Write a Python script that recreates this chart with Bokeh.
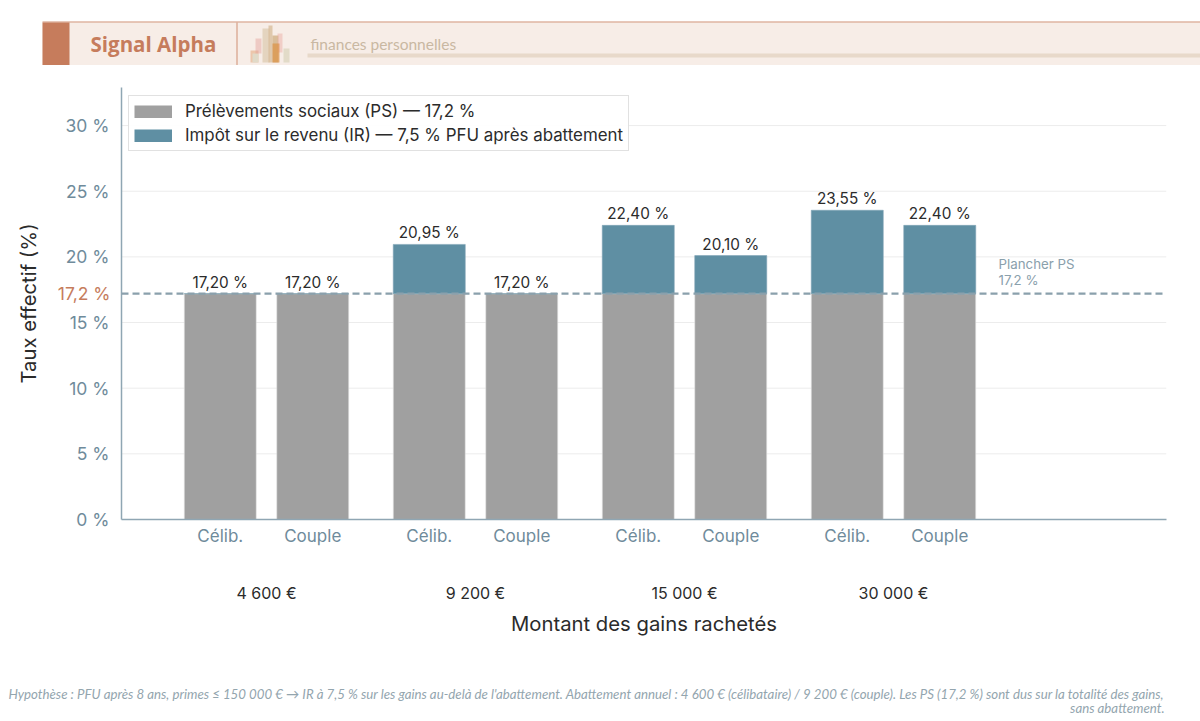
from bokeh.plotting import figure
from bokeh.embed import file_html
from bokeh.resources import INLINE
from bokeh.core.properties import value
from bokeh.models import (Label, LinearAxis, FixedTicker, Range1d, Span, ColumnDataSource, Legend, LegendItem)

amounts = ["4 600 €", "9 200 €", "15 000 €", "30 000 €"]
households = ["Célib.", "Couple"]
ps_values = [17.2, 17.2, 17.2, 17.2, 17.2, 17.2, 17.2, 17.2]
ir_values = [0.0, 0.0, 3.75, 0.0, 5.2, 2.9, 6.35, 5.2]
total_labels = ["17,20 %", "17,20 %", "20,95 %", "17,20 %", "22,40 %", "20,10 %", "23,55 %", "22,40 %"]
y_ticks = [0, 5, 10, 15, 20, 25, 30]
floor_value = 17.2
floor_label = "17,2 %"
FONT = "Inter"
TICK_COL = "#6f8b9b"
AXIS_COL = "#8fa6b3"
DARK = "#2b2b2b"
RUST = "#c67c5c"
GREY = "#a0a0a0"
TEAL = "#5f8fa3"
HEAD_H, FOOT_TOP = 65, 650

# ---------- banner ----------
h = figure(width=1200, height=HEAD_H, output_backend="svg", toolbar_location=None,
           x_range=Range1d(0, 1200), y_range=Range1d(HEAD_H, 0), x_axis_type=None, y_axis_type=None,
           outline_line_color=None, min_border=0)
h.grid.visible = False
def box(l, r, t, b, col, a=1.0):
    h.quad(left=[l], right=[r], top=[t], bottom=[b], fill_color=col, fill_alpha=a, line_color=None)
box(42, 1200, 22, 64.5, "#f7ede7")
box(42, 1200, 21, 22, "#cf8f74")
box(42, 69, 22, 64.5, RUST)
box(236, 237, 22, 64.5, "#cf8f74")
box(307, 1200, 53, 57, "#e8d9ca")
icon = [(250, 258, 50, 62, "#e2a06f", .5), (252, 258, 53, 62, "#dfdccb", .9), (255, 261, 38, 53, "#e29f9a", .45),
        (262, 269, 28, 62, "#dcc9ae", .7), (268, 272, 25, 62, "#d3b48c", .65), (272, 278, 35, 62, "#c9a36e", .65),
        (277, 282, 33, 52, "#e8a8a0", .45), (272, 279, 43, 62, "#dc8a36", .6), (283, 289, 48, 62, "#dcd6c0", .8)]
for b in icon:
    box(*b)
h.add_layout(Label(x=90, y=43.5, text="Signal Alpha", text_font="Open Sans", text_font_style="bold",
                   text_font_size="20.5px", text_color=RUST, text_baseline="middle"))
h.add_layout(Label(x=310, y=43, text="finances personnelles", text_font="Lato",
                   text_font_size="15.5px", text_color="#c9b8a2", text_baseline="middle"))

# ---------- chart ----------
OFF = 92.5 / 209 / 2
xs = [g + s * OFF for g in range(len(amounts)) for s in (-1, 1)]
totals = [a + b for a, b in zip(ps_values, ir_values)]
src = ColumnDataSource(dict(x=xs, ps=ps_values, ir=ir_values, total=totals, base=[0] * 8, lab=total_labels))

p = figure(width=1200, height=FOOT_TOP - HEAD_H, output_backend="svg", toolbar_location=None,
           x_range=Range1d(-145 / 209, 900 / 209), y_range=Range1d(0, 32.9),
           frame_width=1045, frame_height=432,
           min_border_left=121, min_border_right=34, min_border_top=87 - HEAD_H, min_border_bottom=FOOT_TOP - 519,
           outline_line_color=None, x_axis_type=None, y_axis_type=None)

notick = dict(major_tick_line_color=None, minor_tick_line_color=None, major_tick_out=0, major_tick_in=0)
ax = LinearAxis(ticker=FixedTicker(ticks=y_ticks), major_label_overrides={t: f"{t} %" for t in y_ticks},
                major_label_text_font=FONT, major_label_text_font_size="17.5px", major_label_text_color=TICK_COL,
                major_label_standoff=12, axis_line_color=AXIS_COL, axis_line_width=1.5, **notick)
p.add_layout(ax, "left")
ax2 = LinearAxis(ticker=FixedTicker(ticks=[floor_value]), major_label_overrides={floor_value: floor_label},
                 axis_label="Taux effectif (%)", axis_label_text_font=FONT, axis_label_text_font_size="20.3px",
                 axis_label_text_font_style="normal", axis_label_text_color=DARK, axis_label_standoff=14,
                 major_label_text_font=FONT, major_label_text_font_size="17.5px", major_label_text_color=RUST,
                 major_label_standoff=-48, axis_line_color=None, **notick)
p.add_layout(ax2, "left")

bx = LinearAxis(ticker=FixedTicker(ticks=xs), major_label_overrides={x: households[i % 2] for i, x in enumerate(xs)},
                major_label_text_font=FONT, major_label_text_font_size="17px", major_label_text_color=TICK_COL,
                major_label_standoff=6, axis_line_color=AXIS_COL, axis_line_width=1.5, **notick)
p.add_layout(bx, "below")
gx = LinearAxis(ticker=FixedTicker(ticks=list(range(len(amounts)))),
                major_label_overrides={i: a for i, a in enumerate(amounts)},
                axis_label="Montant des gains rachetés", axis_label_text_font=FONT, axis_label_text_font_size="20.3px",
                axis_label_text_font_style="normal", axis_label_text_color=DARK, axis_label_standoff=5,
                major_label_text_font=FONT, major_label_text_font_size="16px", major_label_text_color=DARK,
                major_label_standoff=34, axis_line_color=None, **notick)
p.add_layout(gx, "below")

for t in y_ticks[1:]:
    p.add_layout(Span(location=t, dimension="width", line_color="#ececec", line_width=1, level="underlay"))

W = 72 / 209
p.vbar(x="x", width=W, bottom="base", top="ps", source=src, fill_color=GREY, line_color="#e6e6e6", line_width=0.6)
p.vbar(x="x", width=W, bottom="ps", top="total", source=src, fill_color=TEAL, line_color="#7fa5b5", line_width=0.6)
p.add_layout(Span(location=floor_value, dimension="width", line_color="#8aa0ac", line_width=2.2, line_dash="7 4"))
p.text(x="x", y="total", text="lab", source=src, text_align="center", text_baseline="bottom", y_offset=-2,
       text_font=value(FONT), text_font_size="15.3px", text_color=DARK)

# legend keys: zero-length thick lines, so that the key is filled with no inset and nothing shows on the plot
k1 = p.line(x=[xs[0], xs[0]], y=[ps_values[0], ps_values[0]], line_color=GREY, line_width=13, line_alpha=0.999)
k2 = p.line(x=[xs[0], xs[0]], y=[ps_values[0], ps_values[0]], line_color=TEAL, line_width=13, line_alpha=0.999)
leg = Legend(items=[LegendItem(label="Prélèvements sociaux (PS) — 17,2 %", renderers=[k1]),
                    LegendItem(label="Impôt sur le revenu (IR) — 7,5 % PFU après abattement", renderers=[k2])],
             location=(7, 368), orientation="vertical", label_text_font=FONT, label_text_font_size="16.9px",
             label_text_color=DARK, glyph_width=38, glyph_height=13, label_standoff=13, spacing=4, padding=5, margin=0,
             border_line_color="#c4c4c4", border_line_width=1.5, background_fill_color="white", background_fill_alpha=0.9)
p.add_layout(leg, "center")

FL, FB = 121, 519
p.add_layout(Label(x=998 - FL, y=FB - 263, x_units="screen", y_units="screen", text="Plancher PS", text_font=FONT,
                   text_font_size="13.3px", text_color="#8aa0ac", text_baseline="middle"))
p.add_layout(Label(x=998 - FL, y=FB - 279, x_units="screen", y_units="screen", text=floor_label, text_font=FONT,
                   text_font_size="13.3px", text_color="#8aa0ac", text_baseline="middle"))

# ---------- footnote ----------
f = figure(width=1200, height=721 - FOOT_TOP, output_backend="svg", toolbar_location=None,
           x_range=Range1d(0, 1200), y_range=Range1d(721, FOOT_TOP), x_axis_type=None, y_axis_type=None,
           outline_line_color=None, min_border=0)
f.grid.visible = False
foot = ["Hypothèse : PFU après 8 ans, primes ≤ 150 000 € → IR à 7,5 % sur les gains au-delà de l'abattement. Abattement annuel : 4 600 € (célibataire) / 9 200 € (couple). Les PS (17,2 %) sont dus sur la totalité des gains,",
        "sans abattement."]
for i, line in enumerate(foot):
    f.add_layout(Label(x=1164, y=693 + 14 * i, text=line, text_font="Lato", text_font_style="italic",
                       text_font_size="13.25px", text_color="#93a5ae", text_align="right", text_baseline="middle"))

open("out.html", "w").write(file_html([h, p, f], INLINE))
